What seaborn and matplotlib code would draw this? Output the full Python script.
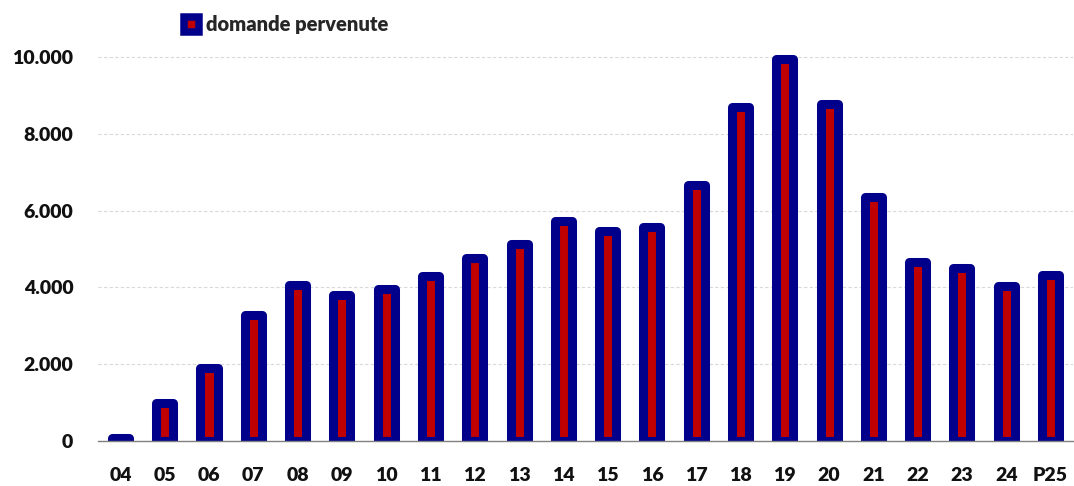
import matplotlib
matplotlib.use('Agg')
import matplotlib.pyplot as plt
import matplotlib.ticker as mticker
from matplotlib.patches import Patch
import seaborn as sns

# Config
OUTPUT_FILE = 'out.png'
NAVY = '#00008B'
RED = '#C00000'
GRID_GREY = '#D9D9D9'
AXIS_GREY = '#808080'

# Data: domande pervenute per anno
years = ['04', '05', '06', '07', '08', '09', '10', '11', '12', '13', '14',
         '15', '16', '17', '18', '19', '20', '21', '22', '23', '24', 'P25']
domande = [90, 1000, 1900, 3280, 4065, 3800, 3960, 4295, 4775, 5135, 5720,
           5475, 5565, 6660, 8700, 9945, 8770, 6360, 4670, 4505, 4030, 4330]
series_label = 'domande pervenute'
y_ticks = [0, 2000, 4000, 6000, 8000, 10000]


def fmt_thousands(v, pos=None):
    return f'{int(v):,}'.replace(',', '.')


def plot_domande(output_file):
    sns.set_style('white')
    plt.rcParams['font.family'] = ['Lato', 'DejaVu Sans']
    text_weight = 'heavy'

    fig = plt.figure(figsize=(10.74, 4.86), dpi=100)
    ax = fig.add_axes([0.0915, 0.0924, 0.9073, 0.8296])

    # red bars with a thick navy outline
    sns.barplot(x=years, y=domande, color=RED, saturation=1, width=0.384,
                edgecolor=NAVY, linewidth=6.5, ax=ax, zorder=3)
    for p in ax.patches:
        p.set_joinstyle('round')

    ax.set_xlim(-0.5, len(years) - 0.5)
    ax.set_ylim(0, 10500)
    ax.set_yticks(y_ticks)
    ax.yaxis.set_major_formatter(mticker.FuncFormatter(fmt_thousands))

    # ticks between categories
    ax.set_xticks([i - 0.5 for i in range(len(years) + 1)], minor=True)
    ax.tick_params(axis='x', which='minor', length=4, width=1, color=AXIS_GREY, direction='out')
    ax.tick_params(axis='x', which='major', length=0, pad=19, labelsize=14)
    ax.tick_params(axis='y', which='major', length=0, pad=18, labelsize=14)
    for lbl in ax.get_xticklabels() + ax.get_yticklabels():
        lbl.set_fontweight(text_weight)
        lbl.set_color('#111111')

    ax.yaxis.grid(True, color=GRID_GREY, linestyle=(0, (3, 2)), linewidth=0.8, zorder=0)
    ax.xaxis.grid(False)
    ax.set_axisbelow(True)

    for side in ['top', 'right', 'left']:
        ax.spines[side].set_visible(False)
    ax.spines['bottom'].set_color(AXIS_GREY)
    ax.spines['bottom'].set_linewidth(1)
    ax.spines['bottom'].set_zorder(4)
    ax.set_xlabel('')
    ax.set_ylabel('')

    # legend at the top
    handle = Patch(facecolor=RED, edgecolor=NAVY, linewidth=5.4, joinstyle='round')
    fig.legend([handle], [series_label], loc='center left',
               bbox_to_anchor=(183.75 / 1074, 1 - 25 / 486), frameon=False,
               borderpad=0, borderaxespad=0, handlelength=0.75, handleheight=0.75,
               handletextpad=0.35, prop={'weight': text_weight, 'size': 14.5})

    fig.savefig(output_file, dpi=100)
    plt.close(fig)
    print(f"Saved {output_file}")


if __name__ == '__main__':
    plot_domande(OUTPUT_FILE)
